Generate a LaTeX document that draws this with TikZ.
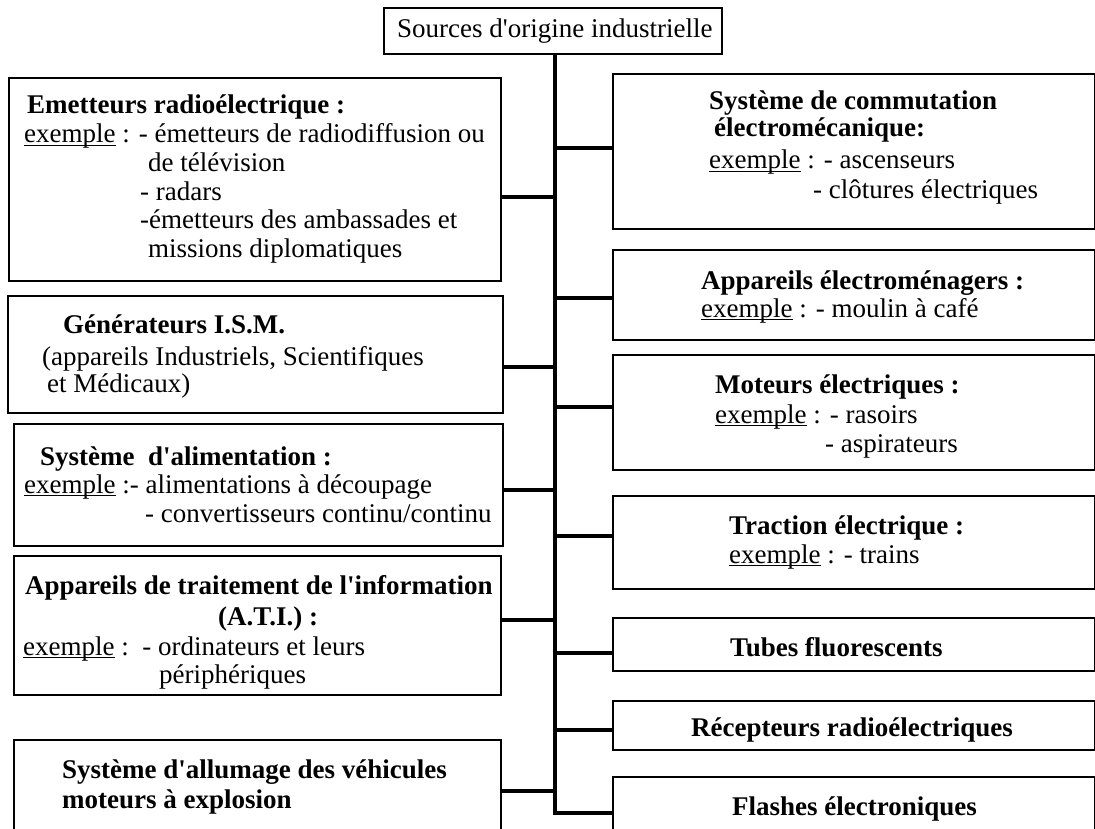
\documentclass[tikz,border=0pt]{standalone}
\usepackage{fontspec}
\setmainfont{Liberation Serif}[Ligatures=TeXOff]
\newcommand\uex{\setbox0\hbox{exemple}\rlap{\rule[-3.2pt]{\wd0}{1.2pt}}\box0}
\begin{document}
\begin{tikzpicture}[x=1pt,y=-1pt,
  box/.style={draw, line width=2.4pt, rectangle, inner sep=0pt, anchor=north west},
  conn/.style={line width=4.5pt},
  txt/.style={inner sep=0pt, anchor=base west, font=\fontsize{27}{30}\selectfont},
  btxt/.style={txt, font=\fontsize{27}{30}\selectfont\bfseries}]
\useasboundingbox (0,0) rectangle (1095,829);

% boxes
\node[box, minimum width=338pt, minimum height=46pt] (top) at (383,7) {};
\node[box, minimum width=492pt, minimum height=203pt] (emet) at (8,77) {};
\node[box, minimum width=495pt, minimum height=117pt] (gen) at (7,295) {};
\node[box, minimum width=489pt, minimum height=122pt] (alim) at (13,423) {};
\node[box, minimum width=487pt, minimum height=139pt] (ati) at (13,555) {};
\node[box, minimum width=487pt, minimum height=93pt] (allum) at (13,739) {};
\node[box, minimum width=482pt, minimum height=155pt] (comm) at (612,73) {};
\node[box, minimum width=482pt, minimum height=90pt] (elec) at (612,249) {};
\node[box, minimum width=482pt, minimum height=115pt] (mot) at (612,354) {};
\node[box, minimum width=482pt, minimum height=93pt] (trac) at (612,495) {};
\node[box, minimum width=482pt, minimum height=53pt] (tubes) at (612,617) {};
\node[box, minimum width=482pt, minimum height=49pt] (recep) at (612,700) {};
\node[box, minimum width=482pt, minimum height=56pt] (flash) at (612,776) {};

% junctions on the trunk
\coordinate (tend) at (555,813);
\coordinate (jcomm) at (555,148);
\coordinate (jemet) at (555,197);
\coordinate (jelec) at (555,298);
\coordinate (jgen) at (555,367);
\coordinate (jmot) at (555,407);
\coordinate (jalim) at (555,490);
\coordinate (jtrac) at (555,536);
\coordinate (jati) at (555,620);
\coordinate (jtubes) at (555,653);
\coordinate (jrecep) at (555,730);
\coordinate (jallum) at (555,791);

\draw[conn] (top.south -| tend) -- (tend) -- (flash.west |- tend);
\draw[conn] (emet.east |- jemet) -- (jemet);
\draw[conn] (gen.east |- jgen) -- (jgen);
\draw[conn] (alim.east |- jalim) -- (jalim);
\draw[conn] (ati.east |- jati) -- (jati);
\draw[conn] (allum.east |- jallum) -- (jallum);
\draw[conn] (jcomm) -- (comm.west |- jcomm);
\draw[conn] (jelec) -- (elec.west |- jelec);
\draw[conn] (jmot) -- (mot.west |- jmot);
\draw[conn] (jtrac) -- (trac.west |- jtrac);
\draw[conn] (jtubes) -- (tubes.west |- jtubes);
\draw[conn] (jrecep) -- (recep.west |- jrecep);

% texts
\node[txt] (ttop) at (397,38) {Sources d'origine industrielle};

\node[btxt] (e1) at (27,114) {Emetteurs radioélectrique :};
\node[txt] (e2) at (24,143) {\uex{} : - émetteurs de radiodiffusion ou};
\node[txt] (e3) at (148,172) {de télévision};
\node[txt] (e4) at (140,201) {- radars};
\node[txt] (e5) at (140,229) {-émetteurs des ambassades et};
\node[txt] (e6) at (148,258) {missions diplomatiques};

\node[btxt] (g1) at (63,333) {Générateurs I.S.M.};
\node[txt] (g2) at (42,365) {(appareils Industriels, Scientifiques};
\node[txt] (g3) at (47,392) {et Médicaux)};

\node[btxt] (a1) at (40,465) {Système\ \ d'alimentation :};
\node[txt] (a2) at (24,493) {\uex{} :- alimentations à découpage};
\node[txt] (a3) at (145,522) {- convertisseurs continu/continu};

\node[btxt] (i1) at (25,594) {Appareils de traitement de l'information};
\node[btxt] (i2) at (218,625) {(A.T.I.) :};
\node[txt] (i3) at (23,655) {\uex{} :\ \ - ordinateurs et leurs};
\node[txt] (i4) at (159,683) {périphériques};

\node[btxt] (l1) at (62,778) {Système d'allumage des véhicules};
\node[btxt] (l2) at (62,808) {moteurs à explosion};

\node[btxt] (c1) at (709,110) {Système de commutation};
\node[btxt] (c2) at (714,137) {électromécanique:};
\node[txt] (c3) at (709,169) {\uex{} : - ascenseurs};
\node[txt] (c4) at (813,199) {- clôtures électriques};

\node[btxt] (m1) at (701,289) {Appareils électroménagers :};
\node[txt] (m2) at (701,317) {\uex{} : - moulin à café};

\node[btxt] (o1) at (715,393) {Moteurs électriques :};
\node[txt] (o2) at (715,423) {\uex{} : - rasoirs};
\node[txt] (o3) at (825,452) {- aspirateurs};

\node[btxt] (t1) at (729,534) {Traction électrique :};
\node[txt] (t2) at (729,563) {\uex{} : - trains};

\node[btxt] (f1) at (730,656) {Tubes fluorescents};
\node[btxt] (r1) at (691,736) {Récepteurs radioélectriques};
\node[btxt] (s1) at (732,815) {Flashes électroniques};
\end{tikzpicture}
\end{document}
